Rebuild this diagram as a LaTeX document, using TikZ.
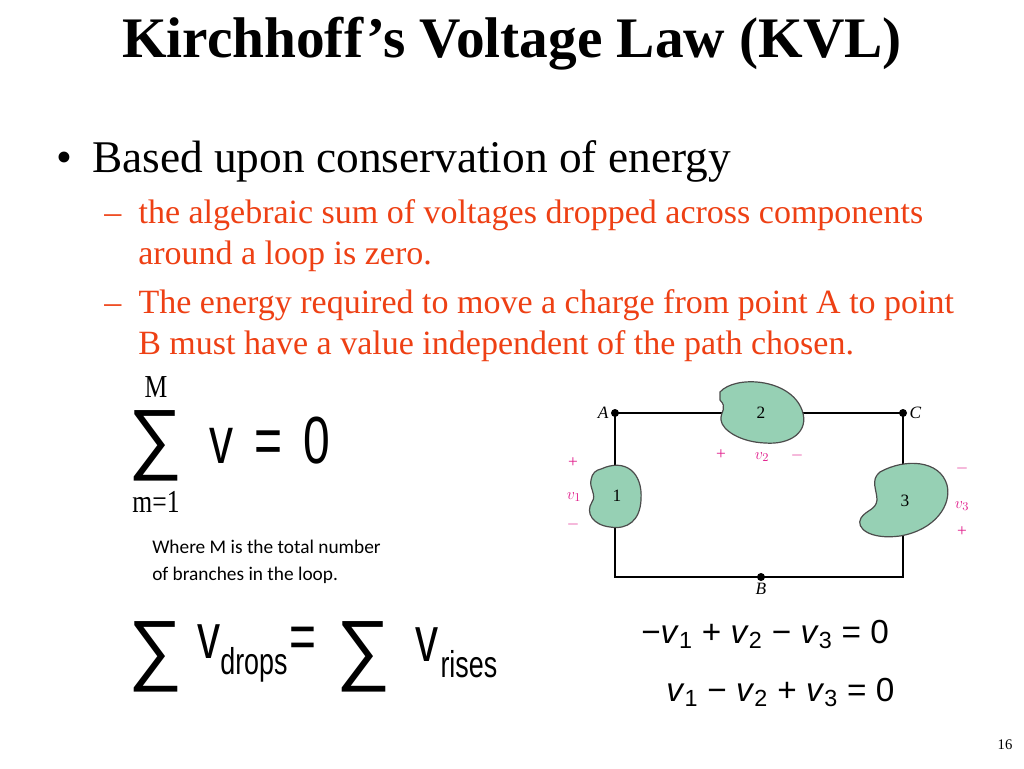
\documentclass[tikz,border=0pt]{standalone}
\usepackage{fontspec}
\usepackage{graphicx}
\setmainfont{Liberation Serif}
\newfontfamily\calib{Carlito}
\newfontfamily\arsans{Liberation Sans}
\usetikzlibrary{positioning}
\definecolor{kvlred}{RGB}{238,64,20}
\definecolor{blobgreen}{RGB}{150,208,180}
\definecolor{polmag}{RGB}{225,30,140}
\tikzset{
  blob/.style={draw=black!70, fill=blobgreen, line width=0.9pt},
  dot/.style={circle, fill=black, inner sep=0pt, minimum size=6pt},
  pol/.style={text=polmag, inner sep=0.75pt, font=\fontsize{13}{13}\selectfont},
  pt/.style={inner sep=1.5pt, font=\itshape\fontsize{13}{13}\selectfont},
  narrow/.style={inner sep=0.75pt, font=\arsans},
  redtext/.style={anchor=north west, inner sep=0pt, align=left, text=kvlred, font=\fontsize{25.5}{31}\selectfont}
}
\newcommand{\nar}[2]{\scalebox{0.72}[1]{\fontsize{#1}{#1}\selectfont #2}}
\newcommand{\thin}[2]{\scalebox{0.8}[1]{\fontsize{#1}{#1}\selectfont #2}}
\newcommand{\bigsig}{\scalebox{0.95}[0.98]{\fontsize{60}{60}\selectfont\arsans ∑}}
\newcommand{\vv}[1]{\textit{v}\textsubscript{#1}}
\begin{document}
\begin{tikzpicture}[x=0.75pt,y=0.75pt,yscale=-1,xscale=1]
\useasboundingbox (0,0) rectangle (1024,768);
\fill[white] (0,0) rectangle (1024,768);
% title and text
\node[font=\bfseries\fontsize{43}{43}\selectfont] (title) at (512,44) {Kirchhoff’s Voltage Law (KVL)};
\node[anchor=west, inner sep=0pt, font=\fontsize{34}{34}\selectfont] (b1) at (56,161) {•\hspace{15pt}Based upon conservation of energy};
\node[redtext] (s1) at (104,199) {–\hspace{13pt}the algebraic sum of voltages dropped across components\\\hspace{25.5pt}around a loop is zero.};
\node[redtext] (s2) at (104,289) {–\hspace{13pt}The energy required to move a charge from point A to point\\\hspace{25.5pt}B must have a value independent of the path chosen.};
% sum formula
\node[inner sep=0pt] (sig) at (156,446) {\bigsig};
\node[inner sep=0pt] (top) at (156,387) {\thin{24}{M}};
\node[inner sep=0pt] (bot) at (156,502) {\thin{24}{m=1}};
\node[narrow, anchor=west] (veq) at (208,441) {\nar{50}{v\ \,=\ \,0}};
\node[anchor=north west, inner sep=0pt, align=left, font=\calib\fontsize{14.5}{20}\selectfont] (note) at (152,540) {Where M is the total number\\of branches in the loop.};
\node[inner sep=0pt] (sg1) at (156,657) {\bigsig};
\node[narrow, anchor=west] (vd) at (196,653) {\nar{48}{v}\nar{28}{\raisebox{-12pt}{drops}}\,\nar{48}{=}};
\node[inner sep=0pt] (sg2) at (364,657) {\bigsig};
\node[narrow, anchor=west] (vr) at (414,653) {\nar{48}{v}\,\nar{28}{\raisebox{-12pt}{rises}}};
% circuit
\node[dot, label={[pt]left:A}] (A) at (615,413) {};
\node[dot, label={[pt]right:C}] (C) at (903,413) {};
\node[dot, label={[pt]below:B}] (B) at (761,577) {};
\coordinate (BL) at (615,577);
\coordinate (BR) at (903,577);
\draw[line width=0.8pt] (A.center) -- (C.center) -- (BR) -- (BL) -- (A.center);
\draw[blob] (601,469) .. controls (625,458) and (643,472) .. (641,500) .. controls (640,520) and (628,530) .. (610,527) .. controls (593,525) and (585,513) .. (592,502) .. controls (597,495) and (589,488) .. (591,480) .. controls (592,473) and (596,470) .. (601,469) -- cycle;
\node (n1) at (617,496) {\fontsize{13}{13}\selectfont 1};
\draw[blob] (720,392) .. controls (735,375) and (790,378) .. (802,410) .. controls (810,432) and (790,445) .. (765,443) .. controls (740,442) and (722,430) .. (721,420) .. controls (720,412) and (728,408) .. (720,400) -- cycle;
\node (n2) at (761,413) {\fontsize{13}{13}\selectfont 2};
\draw[blob] (880,472) .. controls (905,458) and (940,460) .. (947,485) .. controls (952,505) and (935,530) .. (900,536) .. controls (870,540) and (855,528) .. (861,518) .. controls (866,510) and (876,510) .. (877,500) .. controls (877,490) and (870,480) .. (880,472) -- cycle;
\node (n3) at (905,501) {\fontsize{13}{13}\selectfont 3};
\node[pol] (p1) at (573,463) {+};
\node[pol] (v1) at (574,497) {$v_1$};
\node[pol] (m1) at (573,524) {$-$};
\node[pol] (p2) at (721,455) {+};
\node[pol] (v2) at (762,457) {$v_2$};
\node[pol] (m2) at (797,455) {$-$};
\node[pol] (m3) at (962,468) {$-$};
\node[pol] (v3) at (962,506) {$v_3$};
\node[pol] (p3) at (962,532) {+};
% equations
\node[narrow, anchor=west, font=\arsans\fontsize{25}{25}\selectfont] (eq1) at (640,634) {−\vv{1} + \vv{2} − \vv{3} = 0};
\node[narrow, anchor=west, font=\arsans\fontsize{25}{25}\selectfont] (eq2) at (665,692) {\vv{1} − \vv{2} + \vv{3} = 0};
\node (pg) at (1005,745) {\fontsize{11}{11}\selectfont 16};
\end{tikzpicture}
\end{document}
